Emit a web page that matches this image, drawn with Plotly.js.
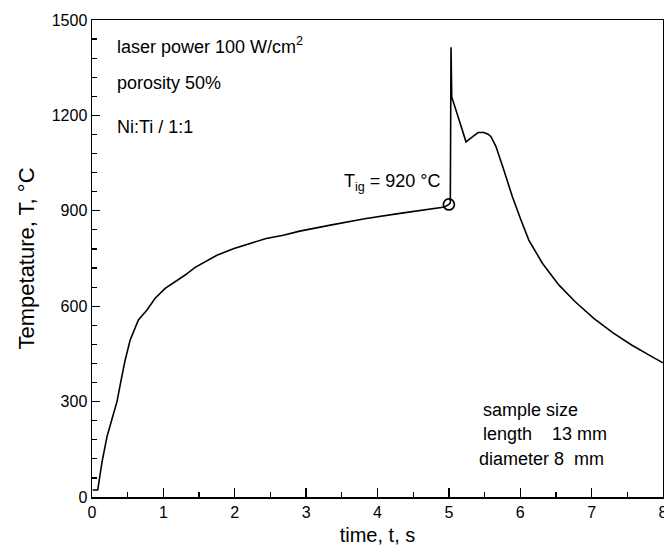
<!DOCTYPE html>
<html>
<head>
<meta charset="utf-8">
<script src="https://cdn.plot.ly/plotly-3.0.1.min.js"></script>
<style>html,body{margin:0;padding:0;background:#fff;}#chart{width:664px;height:555px;}</style>
</head>
<body>
<div id="chart"></div>
<script>
// time, s
const timeS = [0.01, 0.08, 0.14, 0.21, 0.28, 0.35, 0.41, 0.465, 0.535, 0.65, 0.77, 0.885, 1.025, 1.165, 1.305, 1.445, 1.585, 1.75, 1.98, 2.21, 2.44, 2.68, 2.91, 3.34, 3.82, 4.29, 4.75, 4.94, 5.0, 5.02, 5.03, 5.035, 5.04, 5.13, 5.24, 5.32, 5.41, 5.49, 5.55, 5.59, 5.66, 5.77, 5.89, 6.01, 6.12, 6.31, 6.54, 6.77, 7.03, 7.30, 7.56, 7.80, 8.0];
// temperature, °C
const tempC = [22, 22, 110, 190, 245, 300, 370, 431, 494, 557, 588, 625, 656, 677, 698, 722, 740, 760, 781, 797, 813, 823, 836, 855, 875, 891, 907, 912, 920, 925, 1414, 1264, 1258, 1195, 1117, 1131, 1146, 1146, 1141, 1133, 1102, 1028, 944, 871, 808, 735, 667, 614, 562, 516, 478, 447, 422];
// ignition point
const igT = [5.0];
const igTemp = [920];

const xTicks = [0, 1, 2, 3, 4, 5, 6, 7, 8];
const yTicks = [0, 300, 600, 900, 1200, 1500];

const FONT = 'Liberation Sans, Arial, sans-serif';

const traces = [
  {x: timeS, y: tempC, mode: 'lines', line: {color: '#000', width: 1.6}, hoverinfo: 'skip'},
  {x: igT, y: igTemp, mode: 'markers', marker: {symbol: 'circle-open', size: 11, color: '#000', line: {width: 1.7, color: '#000'}}}
];

const ann = (x, y, text, xanchor) => ({x, y, xref: 'x', yref: 'y', text, showarrow: false,
  xanchor: xanchor || 'left', yanchor: 'middle', font: {family: FONT, size: 18, color: '#000'}});

const layout = {
  width: 664, height: 555,
  margin: {l: 92, r: 1, t: 20, b: 58},
  paper_bgcolor: '#fff', plot_bgcolor: '#fff',
  showlegend: false,
  font: {family: FONT, color: '#000'},
  xaxis: {
    range: [0, 8], tickvals: xTicks, ticktext: xTicks.map(String),
    showgrid: false, zeroline: false, showline: true, linecolor: '#000', linewidth: 1.5, mirror: true,
    ticks: 'inside', ticklen: 9, tickwidth: 1.3, tickcolor: '#000',
    minor: {dtick: 0.5, ticks: 'inside', ticklen: 5, tickwidth: 1.2, tickcolor: '#000', showgrid: false},
    tickfont: {family: FONT, size: 16, color: '#000'},
    ticklabeloverflow: 'allow',
    title: {text: 'time, t, s', font: {family: FONT, size: 20, color: '#000'}, standoff: 8},
    automargin: false
  },
  yaxis: {
    range: [0, 1500], tickvals: yTicks, ticktext: yTicks.map(String),
    showgrid: false, zeroline: false, showline: true, linecolor: '#000', linewidth: 1.5, mirror: true,
    ticks: 'inside', ticklen: 8, tickwidth: 1.3, tickcolor: '#000',
    minor: {dtick: 60, ticks: 'inside', ticklen: 5, tickwidth: 1.2, tickcolor: '#000', showgrid: false},
    tickfont: {family: FONT, size: 16, color: '#000'},
    title: {text: 'Tempetature, T, °C', font: {family: FONT, size: 22, color: '#000'}, standoff: 11},
    automargin: false
  },
  annotations: [
    ann(0.32, 1421, 'laser power 100 W/cm<sup>2</sup>'),
    ann(0.32, 1302, 'porosity 50%'),
    ann(0.32, 1164, 'Ni:Ti / 1:1'),
    ann(4.92, 990, 'T<sub>ig</sub> = 920 °C', 'right'),
    ann(5.45, 274, 'sample size'),
    ann(5.45, 198, 'length&nbsp;&nbsp;&nbsp; 13 mm'),
    ann(5.40, 119, 'diameter 8&nbsp; mm')
  ]
};

Plotly.newPlot('chart', traces, layout, {staticPlot: true, displayModeBar: false});
</script>
</body>
</html>
